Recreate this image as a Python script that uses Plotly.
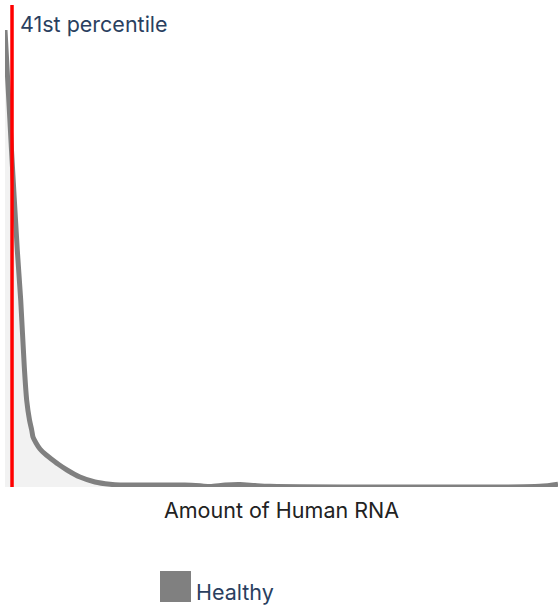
import plotly.graph_objects as go

# Density curve of "Amount of Human RNA" (arbitrary units, 0-100)
rna_amount = [0, 1.175, 2.22, 2.84, 3.49, 3.92, 4.43, 4.83, 5.06, 5.61, 6.33, 7.23,
              8.14, 9.58, 11.21, 13.56, 16.27, 18.99, 20.8, 32.5, 35.3, 37.1, 39.8,
              42.5, 45.2, 47.9, 96.7, 100]
density = [0.948, 0.699, 0.492, 0.388, 0.249, 0.180, 0.139, 0.118, 0.1037, 0.0913,
           0.0788, 0.0685, 0.0602, 0.0477, 0.0353, 0.0207, 0.0104, 0.0056, 0.0041,
           0.0041, 0.0025, 0.0008, 0.004, 0.005, 0.003, 0.0015, 0.0015, 0.006]
percentile_value = 1.27
percentile_label = "41st percentile"
series_name = "Healthy"
x_title = "Amount of Human RNA"

FONT = "Inter"
FS = 21.5

fig = go.Figure()
fig.add_trace(go.Scatter(
    x=rna_amount, y=density, mode="lines", name=series_name,
    line=dict(color="#808080", width=5, shape="spline", smoothing=0.7),
    fill="tozeroy", fillcolor="#f2f2f2", showlegend=False,
))

fig.add_shape(type="line", xref="x", yref="paper",
              x0=percentile_value, x1=percentile_value, y0=0, y1=1,
              line=dict(color="red", width=3.5))

fig.add_annotation(x=percentile_value, xref="x", y=0.9606, yref="paper",
                   text=percentile_label, showarrow=False,
                   xanchor="left", yanchor="middle", xshift=6,
                   font=dict(family=FONT, size=FS, color="#2a3f5f"))

# legend swatch
fig.add_shape(type="rect", xref="paper", yref="paper",
              x0=0.2803, x1=0.3363, y0=-0.2386, y1=-0.1743,
              fillcolor="#808080", line=dict(width=0))
fig.add_annotation(x=0.3418, xref="paper", y=-0.218, yref="paper",
                   text=series_name, showarrow=False,
                   xanchor="left", yanchor="middle",
                   font=dict(family=FONT, size=FS, color="#2a3f5f"))

fig.update_layout(
    width=558, height=608,
    margin=dict(l=5, r=0, t=5, b=121),
    plot_bgcolor="white", paper_bgcolor="white",
    showlegend=False,
    font=dict(family=FONT),
    xaxis=dict(range=[0, 100], showticklabels=False, showgrid=False,
               zeroline=False, showline=False, ticks="",
               title=dict(text=x_title, standoff=15,
                          font=dict(family=FONT, size=FS, color="#222"))),
    yaxis=dict(range=[0, 1], visible=False, showgrid=False, zeroline=False),
)

fig.write_html("out.html", config={"displayModeBar": False},
               post_script="document.body.style.margin='0';")
